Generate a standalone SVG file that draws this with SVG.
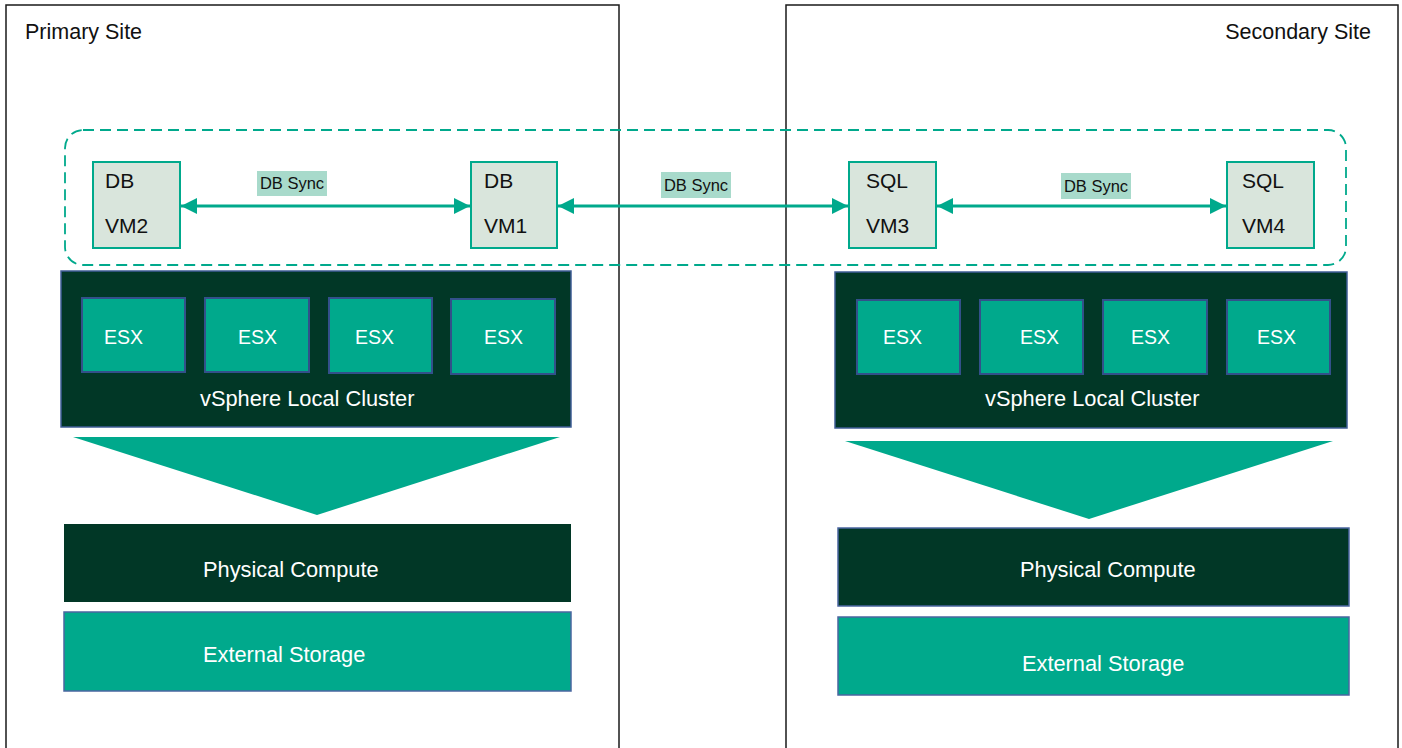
<svg xmlns="http://www.w3.org/2000/svg" width="1402" height="748" viewBox="0 0 1402 748">
<defs>
<style>
text{font-family:"Liberation Sans",Arial,sans-serif}
.site{fill:none;stroke:#1a1a1a;stroke-width:1.5}
.sitelbl{font-size:21.5px;fill:#111}
.group{fill:none;stroke:#00A98C;stroke-width:1.8;stroke-dasharray:11 6}
.vm{fill:#D9E5DC;stroke:#00A98C;stroke-width:2}
.vmt{font-size:21px;fill:#111}
.lblbg{fill:#A8DACB}
.lbl{font-size:16.5px;fill:#111;text-anchor:middle}
.conn{stroke:#00A98C;stroke-width:3;fill:none}
.cluster{fill:#013726;stroke:#3F5E96;stroke-width:1.5}
.esx{fill:#00A98C;stroke:#33508A;stroke-width:2}
.esxt{font-size:19.5px;fill:#fff}
.wt{font-size:21.8px;fill:#fff}
.tri{fill:#00A98C}
.pc{fill:#013726}
.pcb{fill:#013726;stroke:#4A66A0;stroke-width:1.5}
.es{fill:#00A98C;stroke:#4A66A0;stroke-width:1.5}
</style>
<marker id="ah" markerUnits="userSpaceOnUse" markerWidth="16" markerHeight="16" refX="16" refY="8" orient="auto-start-reverse" viewBox="0 0 16 16">
<path d="M0,0 L16,8 L0,16 z" fill="#00A98C"/>
</marker>
</defs>
<rect width="1402" height="748" fill="#fff"/>

<g id="primary-site">
<rect class="site" x="6" y="5" width="613" height="760"/>
<text class="sitelbl" x="25" y="39">Primary Site</text>
</g>
<g id="secondary-site">
<rect class="site" x="786" y="5" width="612" height="760"/>
<text class="sitelbl" x="1371" y="39" text-anchor="end">Secondary Site</text>
</g>

<g id="db-group">
<rect class="group" x="65" y="130" width="1281" height="135" rx="18"/>
</g>

<g id="vm2">
<rect class="vm" x="93" y="162" width="87" height="86"/>
<text class="vmt" x="105" y="188">DB</text>
<text class="vmt" x="105" y="233">VM2</text>
</g>
<g id="vm1">
<rect class="vm" x="471" y="162" width="86" height="86"/>
<text class="vmt" x="484" y="188">DB</text>
<text class="vmt" x="484" y="233">VM1</text>
</g>
<g id="vm3">
<rect class="vm" x="849" y="162" width="87" height="86"/>
<text class="vmt" x="866" y="188">SQL</text>
<text class="vmt" x="866" y="233">VM3</text>
</g>
<g id="vm4">
<rect class="vm" x="1227" y="162" width="87" height="86"/>
<text class="vmt" x="1242" y="188">SQL</text>
<text class="vmt" x="1242" y="233">VM4</text>
</g>

<g id="connectors">
<line class="conn" x1="181" y1="206" x2="470" y2="206" marker-start="url(#ah)" marker-end="url(#ah)"/>
<line class="conn" x1="558" y1="206" x2="848" y2="206" marker-start="url(#ah)" marker-end="url(#ah)"/>
<line class="conn" x1="937" y1="206" x2="1226" y2="206" marker-start="url(#ah)" marker-end="url(#ah)"/>
<rect class="lblbg" x="257" y="171" width="70" height="25"/>
<text class="lbl" x="292" y="189">DB Sync</text>
<rect class="lblbg" x="661" y="172" width="70" height="26"/>
<text class="lbl" x="696" y="191">DB Sync</text>
<rect class="lblbg" x="1061" y="173" width="70" height="26"/>
<text class="lbl" x="1096" y="192">DB Sync</text>
</g>

<g id="cluster-primary">
<rect class="cluster" x="61" y="271" width="510" height="156"/>
<rect class="esx" x="82" y="298" width="103" height="74"/>
<rect class="esx" x="205" y="298" width="104" height="74"/>
<rect class="esx" x="329" y="298" width="103" height="75"/>
<rect class="esx" x="451" y="299" width="104" height="75"/>
<text class="esxt" x="104" y="344">ESX</text>
<text class="esxt" x="238" y="344">ESX</text>
<text class="esxt" x="355" y="344">ESX</text>
<text class="esxt" x="484" y="344">ESX</text>
<text class="wt" x="200" y="406">vSphere Local Cluster</text>
</g>
<g id="cluster-secondary">
<rect class="cluster" x="835" y="272" width="512" height="156"/>
<rect class="esx" x="857" y="300" width="103" height="74"/>
<rect class="esx" x="980" y="300" width="103" height="74"/>
<rect class="esx" x="1103" y="300" width="104" height="74"/>
<rect class="esx" x="1227" y="300" width="103" height="74"/>
<text class="esxt" x="883" y="344">ESX</text>
<text class="esxt" x="1020" y="344">ESX</text>
<text class="esxt" x="1131" y="344">ESX</text>
<text class="esxt" x="1257" y="344">ESX</text>
<text class="wt" x="985" y="406">vSphere Local Cluster</text>
</g>

<g id="arrow-primary">
<polygon class="tri" points="73,437 560,437 317,515"/>
</g>
<g id="arrow-secondary">
<polygon class="tri" points="845,441 1333,441 1089,519"/>
</g>

<g id="compute-primary">
<rect class="pc" x="64" y="524" width="507" height="78"/>
<text class="wt" x="203" y="577">Physical Compute</text>
</g>
<g id="storage-primary">
<rect class="es" x="64" y="612" width="507" height="79"/>
<text class="wt" x="203" y="662">External Storage</text>
</g>
<g id="compute-secondary">
<rect class="pcb" x="838" y="528" width="511" height="78"/>
<text class="wt" x="1020" y="577">Physical Compute</text>
</g>
<g id="storage-secondary">
<rect class="es" x="838" y="617" width="511" height="78"/>
<text class="wt" x="1022" y="671">External Storage</text>
</g>
</svg>
